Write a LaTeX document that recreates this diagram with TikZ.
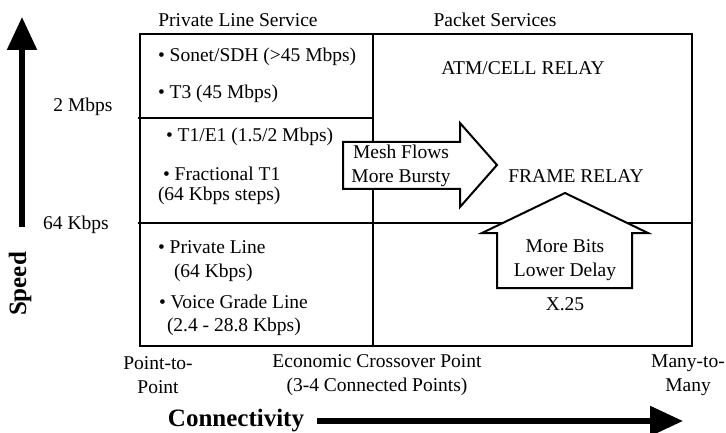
\documentclass[tikz,border=0pt]{standalone}
\usepackage{fontspec}
\setmainfont{Liberation Serif}
\usetikzlibrary{arrows.meta}

\begin{document}
\begin{tikzpicture}[x=1pt, y=-1pt, line width=2pt,
    lbl/.style={inner sep=0pt, align=center, font=\fontsize{19.5}{24.5}\selectfont},
    item/.style={lbl, anchor=west, align=left},
    axislbl/.style={inner sep=0pt, font=\bfseries\fontsize{25}{30}\selectfont},
    axis/.style={line width=5.5pt, -{Triangle[length=33pt, width=29pt]}},
    fatarrow/.style={draw, fill=white, line width=2pt, line join=miter}]
    \useasboundingbox (0,0) rectangle (726,433);

    % the grid
    \draw (140,34) rectangle (692,346);
    \draw (373,34) -- (373,346);
    \draw (138,118) -- (373,118);
    \draw (138,223) -- (692,223);

    % column headings
    \node[lbl] (private) at (238,20) {Private Line Service};
    \node[lbl] (packet) at (495,20) {Packet Services};

    % private line items
    \node[item] (sonet) at (157,57) {\textbullet\ Sonet/SDH (>45 Mbps)};
    \node[item] (tthree) at (157,94) {\textbullet\ T3 (45 Mbps)};
    \node[item] (tone) at (165,137) {\textbullet\ T1/E1 (1.5/2 Mbps)};
    \node[item] (fract) at (162,174) {\textbullet\ Fractional T1};
    \node[item] (fractsteps) at (157,196) {(64 Kbps steps)};
    \node[item] (privline) at (157,247) {\textbullet\ Private Line};
    \node[item] (privrate) at (173,273) {(64 Kbps)};
    \node[item] (voice) at (158,302) {\textbullet\ Voice Grade Line};
    \node[item] (voicerate) at (166,327) {(2.4 - 28.8 Kbps)};

    % packet services
    \node[lbl] (atm) at (523,68) {ATM/CELL RELAY};
    \node[lbl] (frame) at (576,176) {FRAME RELAY};
    \node[lbl] (xtwofive) at (565,304) {X.25};

    % the two big arrows
    \draw[fatarrow] (343,142) -- (460,142) -- (460,123) -- (497,165) -- (460,207) -- (460,189) -- (343,189) -- cycle;
    \node[lbl] (mesh) at (401,166) {Mesh Flows\\More Bursty};
    \draw[fatarrow] (565,193) -- (648,233) -- (632,233) -- (632,288) -- (497,288) -- (497,233) -- (482,233) -- cycle;
    \node[lbl] (morebits) at (565,260) {More Bits\\Lower Delay};

    % speed axis
    \node[lbl] (twombps) at (83,107) {2 Mbps};
    \node[lbl] (sixtyfour) at (76,225) {64 Kbps};
    \node[axislbl, rotate=90] (speed) at (20,284) {Speed};
    \coordinate (speedtail) at (22,227);
    \coordinate (speedtip) at (22,17);
    \draw[axis] (speedtail) -- (speedtip);

    % connectivity axis
    \node[lbl] (ptp) at (158,375) {Point-to-\\Point};
    \node[lbl] (cross) at (377,375) {Economic Crossover Point\\(3-4 Connected Points)};
    \node[lbl] (mtm) at (688,375) {Many-to-\\Many};
    \node[axislbl] (conn) at (236,421) {Connectivity};
    \coordinate (conntip) at (683,421);
    \draw[axis] ([xshift=12pt]conn.east) -- (conntip);
\end{tikzpicture}
\end{document}
